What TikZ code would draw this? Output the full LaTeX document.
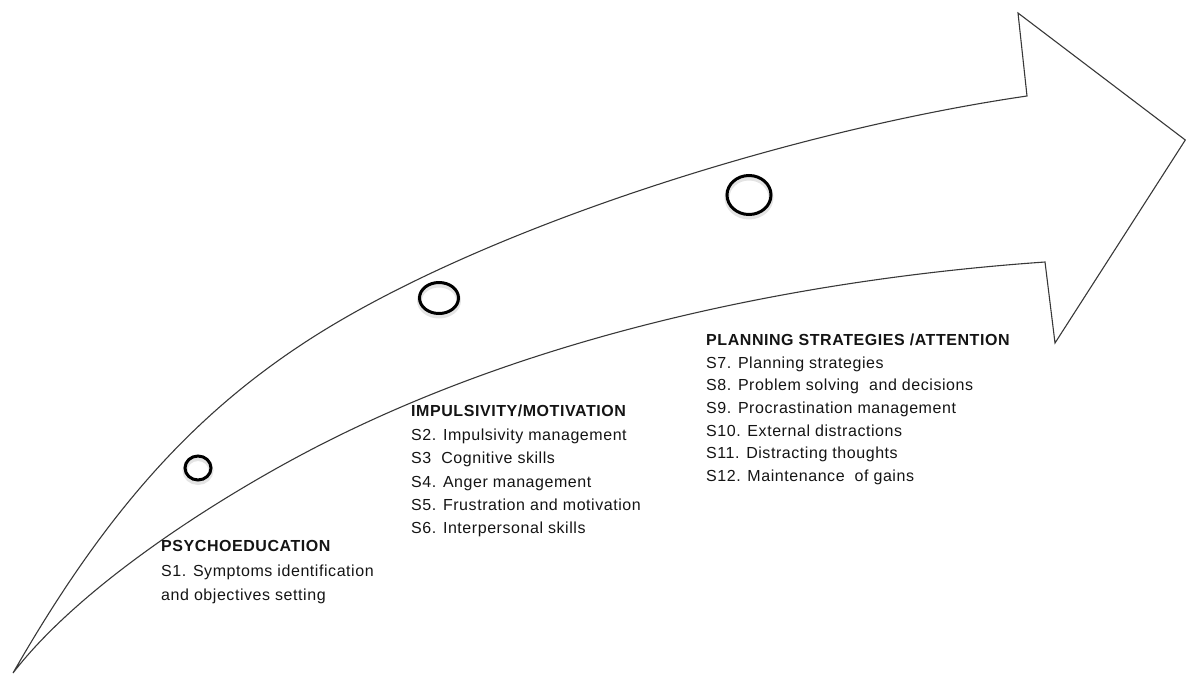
\documentclass[tikz,border=0pt]{standalone}
\usepackage{fontspec}
\setmainfont{Liberation Sans}[LetterSpace=3.5]
\usetikzlibrary{shapes.geometric}
\begin{document}
\begin{tikzpicture}[x=1pt,y=-1pt,
  outline/.style={draw=black!78, line width=1.1pt, line join=miter},
  marker/.style={ellipse, draw=black, line width=3pt, inner sep=0pt,
    preaction={draw=black!30, line width=5pt, opacity=0.35,
      transform canvas={yshift=-2.5pt}}},
  stage/.style={anchor=north west, align=left, inner sep=0pt, text=black!92}]
% canvas
\useasboundingbox (0,0) rectangle (1186,675);
% curved arrow: upper edge, head, lower edge back to the tail
\draw[outline]
  (13,673) .. controls (103,516) and (190,417) .. (307,341)
           .. controls (477,230.5) and (787,131) .. (1027,96)
  -- (1018,13) -- (1185.3,140) -- (1055,343) -- (1045,262)
  .. controls (845,276) and (570,320) .. (330,440)
  .. controls (230,490) and (83,582) .. cycle;
% stage markers
\node[marker, minimum width=26pt, minimum height=24pt] (m1) at (198,468) {};
\node[marker, minimum width=39pt, minimum height=31pt] (m2) at (439,298) {};
\node[marker, minimum width=44pt, minimum height=39pt] (m3) at (749,195) {};
% stage descriptions
\node[stage, font=\fontsize{16}{24.5}\selectfont] (t1) at (161,540.5)
  {\textbf{PSYCHOEDUCATION}\\
   S1. Symptoms identification\\
   and objectives setting};
\node[stage, font=\fontsize{16}{23.4}\selectfont] (t2) at (411,405)
  {\textbf{IMPULSIVITY/MOTIVATION}\\
   S2. Impulsivity management\\
   S3\ \ Cognitive skills\\
   S4. Anger management\\
   S5. Frustration and motivation\\
   S6. Interpersonal skills};
\node[stage, font=\fontsize{16}{22.7}\selectfont] (t3) at (706,333.5)
  {\textbf{PLANNING STRATEGIES /ATTENTION}\\
   S7. Planning strategies\\
   S8. Problem solving\ \ and decisions\\
   S9. Procrastination management\\
   S10. External distractions\\
   S11. Distracting thoughts\\
   S12. Maintenance\ \ of gains};
\end{tikzpicture}
\end{document}
